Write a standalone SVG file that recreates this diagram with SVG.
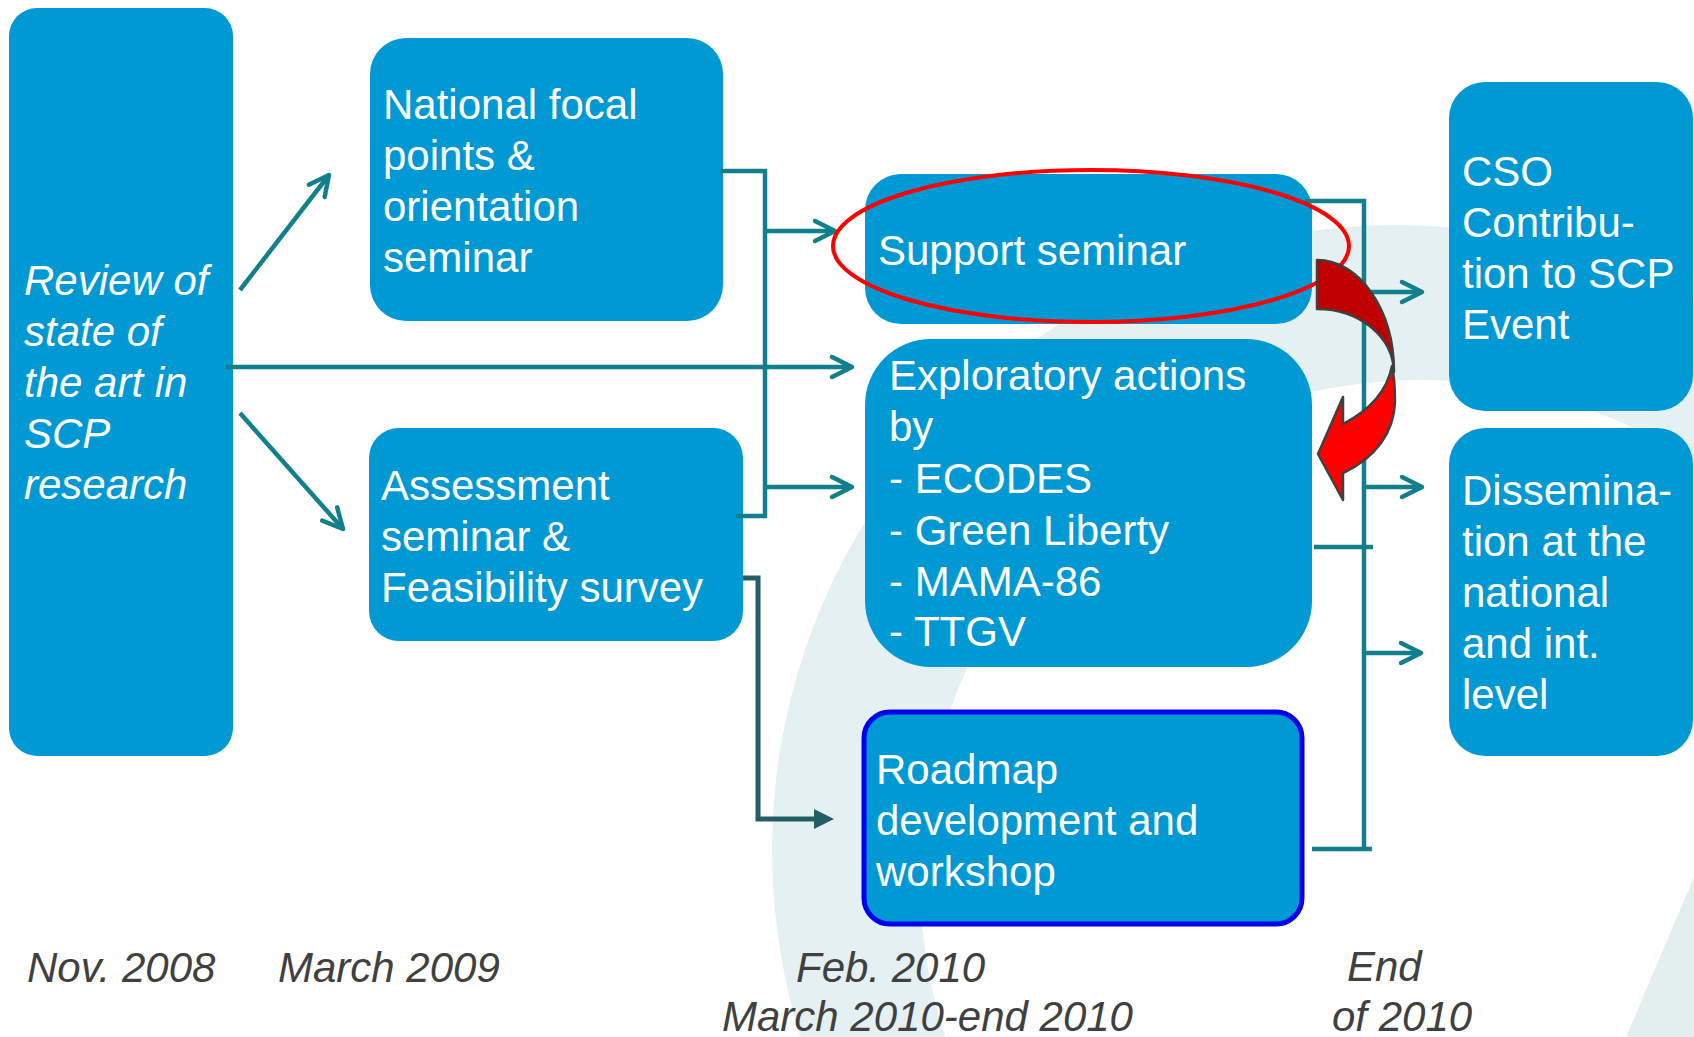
<svg xmlns="http://www.w3.org/2000/svg" width="1694" height="1037" viewBox="0 0 1694 1037">
<style>
.box{fill:#0099D3}
.t{font-family:"Liberation Sans",Arial,sans-serif;font-size:42px;fill:#FFFFFF}
.it{font-style:italic}
.date{font-family:"Liberation Sans",Arial,sans-serif;font-size:42px;font-style:italic;fill:#404040}
.ln{fill:none;stroke:#127F8C;stroke-width:4.5}
.arr{fill:none;stroke:#127F8C;stroke-width:4.5;marker-end:url(#chev)}
</style>
<defs>
<marker id="chev" markerUnits="userSpaceOnUse" markerWidth="30" markerHeight="30" viewBox="-26 -15 30 30" refX="0" refY="0" orient="auto" overflow="visible">
<path d="M-20,-10 L0,0 L-20,10" fill="none" stroke="#127F8C" stroke-width="4.5" stroke-linecap="round" stroke-linejoin="round"/>
</marker>
</defs>
<rect width="1694" height="1037" fill="#FFFFFF"/>
<g id="background">
<path d="M772,850 A625,625 0 1 1 2022,850 A625,625 0 1 1 772,850 Z M920,880 A500,500 0 1 0 1920,880 A500,500 0 1 0 920,880 Z" fill="#E4F0F1" fill-rule="evenodd"/>
<polygon points="1626,1037 1694,877 1694,1037" fill="#E3EFEF"/>
</g>
<g id="review">
<rect class="box" x="9" y="8" width="224" height="748" rx="28"/>
<text class="t it" x="24"><tspan x="24" y="295">Review of</tspan><tspan x="24" y="346">state of</tspan><tspan x="24" y="397">the art in</tspan><tspan x="24" y="448">SCP</tspan><tspan x="24" y="499">research</tspan></text>
</g>
<g id="national">
<rect class="box" x="370" y="38" width="353" height="283" rx="36"/>
<text class="t"><tspan x="383" y="119">National focal</tspan><tspan x="383" y="170">points &amp;</tspan><tspan x="383" y="221">orientation</tspan><tspan x="383" y="272">seminar</tspan></text>
</g>
<g id="assessment">
<rect class="box" x="369" y="428" width="374" height="213" rx="30"/>
<text class="t"><tspan x="381" y="500">Assessment</tspan><tspan x="381" y="551">seminar &amp;</tspan><tspan x="381" y="602">Feasibility survey</tspan></text>
</g>
<g id="support">
<rect class="box" x="865" y="174" width="447" height="150" rx="36"/>
<text class="t" x="878" y="265">Support seminar</text>
</g>
<g id="exploratory">
<rect class="box" x="865" y="339" width="447" height="328" rx="66"/>
<text class="t"><tspan x="889" y="390">Exploratory actions</tspan><tspan x="889" y="441">by</tspan><tspan x="889" y="493">- ECODES</tspan><tspan x="889" y="545">- Green Liberty</tspan><tspan x="889" y="596">- MAMA-86</tspan><tspan x="889" y="646">- TTGV</tspan></text>
</g>
<g id="roadmap">
<rect class="box" x="864" y="712" width="438" height="212" rx="26" stroke="#0000F0" stroke-width="5"/>
<text class="t"><tspan x="876" y="784">Roadmap</tspan><tspan x="876" y="835">development and</tspan><tspan x="876" y="886">workshop</tspan></text>
</g>
<g id="cso">
<rect class="box" x="1449" y="82" width="244" height="329" rx="36"/>
<text class="t"><tspan x="1462" y="186">CSO</tspan><tspan x="1462" y="237">Contribu-</tspan><tspan x="1462" y="288">tion to SCP</tspan><tspan x="1462" y="339">Event</tspan></text>
</g>
<g id="dissemination">
<rect class="box" x="1449" y="428" width="244" height="328" rx="36"/>
<text class="t"><tspan x="1462" y="505">Dissemina-</tspan><tspan x="1462" y="556">tion at the</tspan><tspan x="1462" y="607">national</tspan><tspan x="1462" y="658">and int.</tspan><tspan x="1462" y="709">level</tspan></text>
</g>
<g id="connectors">
<line class="arr" x1="240" y1="290" x2="329" y2="175"/>
<line class="arr" x1="240" y1="413" x2="343" y2="529"/>
<line class="arr" x1="226" y1="367" x2="852" y2="367"/>
<path class="ln" d="M720,171 H765 V516 H736"/>
<line class="arr" x1="765" y1="231" x2="835" y2="231"/>
<line class="arr" x1="765" y1="487" x2="852" y2="487"/>
<path d="M743,578 H758 V819 H818" fill="none" stroke="#245E65" stroke-width="5"/>
<polygon points="814,809 834,819 814,829" fill="#245E65"/>
<path class="ln" d="M1305,201 H1364 V849"/>
<path class="ln" d="M1312,849 H1372"/>
<path class="ln" d="M1314,547 H1373"/>
<line class="arr" x1="1364" y1="292" x2="1422" y2="292"/>
<line class="arr" x1="1364" y1="487" x2="1422" y2="487"/>
<line class="arr" x1="1364" y1="653" x2="1421" y2="653"/>
</g>
<g id="highlight">
<ellipse cx="1091" cy="246" rx="258" ry="76" fill="none" stroke="#FF0000" stroke-width="4"/>
</g>
<g id="curved-arrow" stroke="#404040" stroke-width="2.5" stroke-linejoin="round">
<path d="M1392,366 C1395,380 1395,392 1395,402 C1394,432 1376,458 1343,473 L1343,500 L1318,454 L1343,397 L1343,424 C1370,410 1387,392 1392,366 Z" fill="#FF0000"/>
<path d="M1317,260 C1359,260 1394,309 1394,372 C1393,336 1359,309 1317,309 Z" fill="#C00000"/>
</g>
<g id="dates">
<text class="date" x="27" y="982">Nov. 2008</text>
<text class="date" x="278" y="982">March 2009</text>
<text class="date" x="796" y="982">Feb. 2010</text>
<text class="date" x="722" y="1031">March 2010-end 2010</text>
<text class="date" x="1347" y="981">End</text>
<text class="date" x="1332" y="1031">of 2010</text>
</g>
</svg>
